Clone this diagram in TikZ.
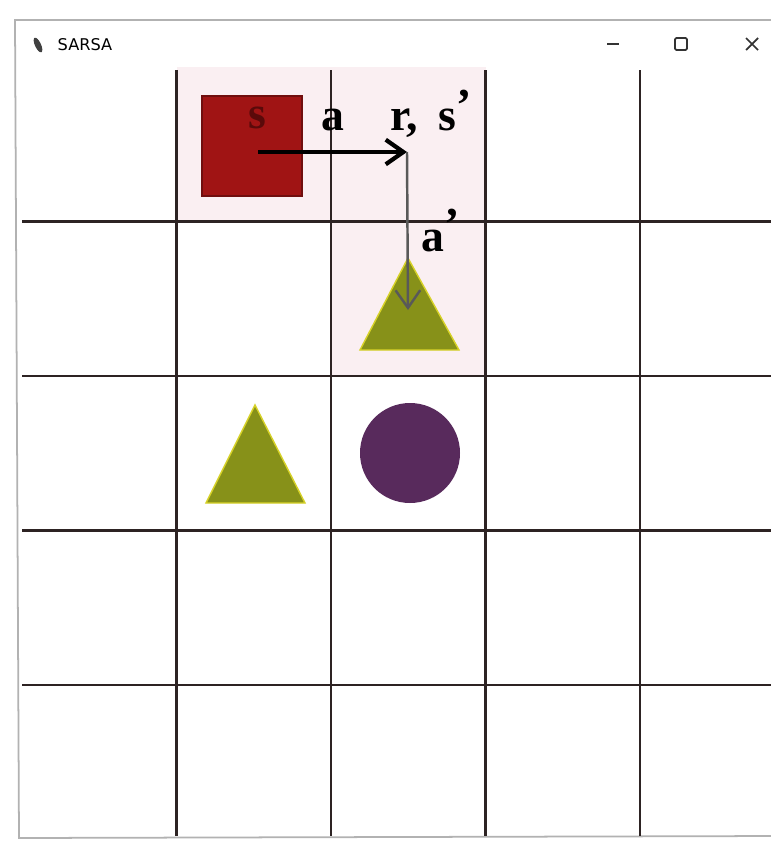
\documentclass[tikz,border=0pt]{standalone}
\usepackage{fontspec}
\setmainfont{Liberation Serif}
\newfontfamily\titlefont{DejaVu Sans}
\usepackage{tikz}
\usetikzlibrary{arrows, arrows.meta, positioning, shapes}

\definecolor{gridline}{RGB}{45,35,35}
\definecolor{agentred}{RGB}{160,20,20}
\definecolor{labelred}{RGB}{90,10,10}
\definecolor{olivegreen}{RGB}{135,145,25}
\definecolor{olivedge}{RGB}{215,210,40}
\definecolor{hellpurple}{RGB}{88,42,92}
\definecolor{visited}{RGB}{250,239,242}

\tikzset{
    celltext/.style={font=\fontsize{13}{15}\selectfont\bfseries, inner sep=0pt, anchor=base west},
    obstacle/.style={fill=olivegreen, draw=olivedge, line width=0.4pt},
}

\begin{document}
\begin{tikzpicture}[x=0.01cm, y=-0.01cm, >={Straight Barb[length=5pt, width=7pt]}]
    \useasboundingbox (0,0) rectangle (771,851);
    \fill[white] (0,0) rectangle (771,851);

    % Fereastra
    \draw[gray!60, line width=0.5pt] (780,20) -- (15,20) -- (19,838) -- (780,836);
    \fill[black!75, rotate around={-65:(38,45)}] (38,45) ellipse (8 and 3);
    \node[font=\titlefont\fontsize{4.6}{5}\selectfont, anchor=west, inner sep=0pt] (title) at (57,45) {SARSA};
    \draw[black!80, line width=0.5pt] (607,44) -- (619,44);
    \draw[black!80, line width=0.5pt, rounded corners=0.4pt] (675,38) rectangle (687,50);
    \draw[black!80, line width=0.5pt] (746,38) -- (758,50) (746,50) -- (758,38);

    % Celule vizitate
    \fill[visited] (176.5,67) rectangle (485.5,221.5);
    \fill[visited] (331,221.5) rectangle (485.5,376);

    % Grila
    \foreach \i in {1,...,4}{
        \draw[gridline, line width=0.7pt] (22+154.5*\i,70) -- (22+154.5*\i,836);
        \draw[gridline, line width=0.7pt] (22,67+154.5*\i) -- (780,67+154.5*\i);
    }

    % Agent si obiecte
    \node[fill=agentred, draw=agentred!70!black, line width=0.4pt, minimum size=100*0.01cm, inner sep=0pt] (s) at (252,146) {};
    \fill[obstacle] (408,258) -- (459,350) -- (360,350) -- cycle;
    \fill[obstacle] (255,405) -- (305,503) -- (206,503) -- cycle;
    \node[circle, fill=hellpurple, minimum size=100*0.01cm, inner sep=0pt] (goal) at (410,453) {};

    % Etichete
    \node[celltext, text=labelred] (sl) at (248,128) {s};
    \node[celltext] (al) at (321,130) {a};
    \node[celltext] (rl) at (390,130) {r,\hspace{0.45em}s\raisebox{0.2em}{’}};
    \node[celltext] (apl) at (421,251) {a\raisebox{0.25em}{’}};

    % Tranzitii
    \coordinate (start) at (258,152);
    \coordinate (next) at (407,152);
    \coordinate (stop) at (408,310);
    \draw[->, line width=1.2pt] (start) -- (next);
    \draw[->, black!65, line width=0.7pt] (next) -- (stop);
\end{tikzpicture}
\end{document}
